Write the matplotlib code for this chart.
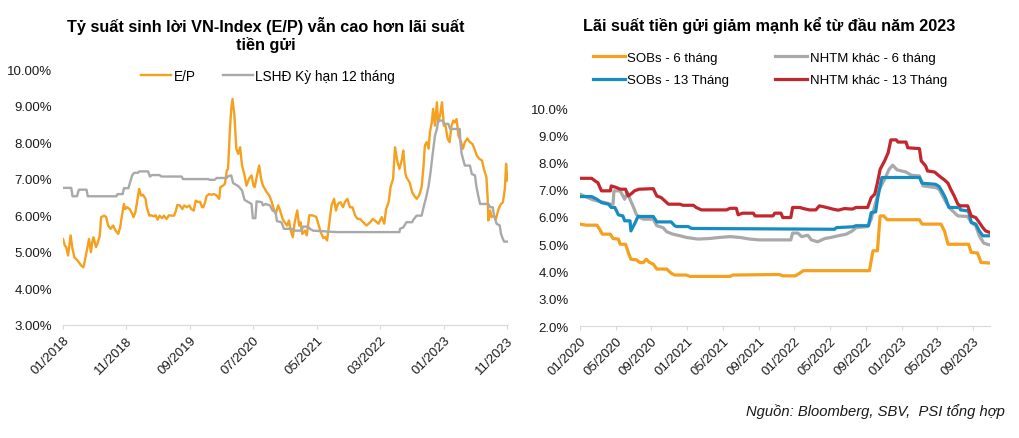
import matplotlib
matplotlib.use("Agg")
from matplotlib import pyplot as plt
from matplotlib.ticker import FuncFormatter

plt.rcParams['font.family'] = ['Liberation Sans', 'DejaVu Sans']

# --- left chart: E/P vs 12-month deposit rate (x = months since 01/2018)
ep_month = [0.0, 0.3, 0.5, 0.8, 1.0, 1.2, 1.5, 1.8, 2.3, 2.9,
            3.2, 3.4, 3.8, 4.1, 4.4, 4.6, 4.8, 5.2, 5.5, 5.8,
            6.0, 6.5, 6.8, 7.1, 7.5, 7.9, 8.3, 8.7, 9.0, 9.2,
            9.6, 9.8, 10.1, 10.5, 10.9, 11.1, 11.4, 11.7, 12.0, 12.3,
            12.6, 13.0, 13.2, 13.6, 13.9, 14.3, 14.6, 14.9, 15.2, 15.6,
            15.9, 16.3, 16.7, 17.1, 17.5, 17.8, 18.0, 18.4, 18.8, 19.1,
            19.5, 19.9, 20.2, 20.6, 20.9, 21.3, 21.6, 21.9, 22.1, 22.4,
            22.6, 23.0, 23.4, 23.8, 24.2, 24.6, 24.8, 25.2, 25.5, 25.8,
            26.0, 26.3, 26.5, 26.7, 27.0, 27.3, 27.6, 27.9, 28.2, 28.6,
            28.9, 29.3, 29.7, 30.0, 30.2, 30.5, 30.9, 31.2, 31.5, 31.8,
            32.1, 32.5, 32.9, 33.2, 33.5, 33.9, 34.2, 34.6, 34.9, 35.3,
            35.6, 35.8, 36.2, 36.5, 36.9, 37.2, 37.4, 37.7, 38.1, 38.4,
            38.8, 39.1, 39.5, 39.9, 40.3, 40.6, 41.0, 41.3, 41.6, 42.0,
            42.3, 42.7, 43.0, 43.3, 43.7, 44.1, 44.4, 44.8, 45.2, 45.6,
            46.0, 46.4, 46.8, 47.3, 47.8, 48.4, 48.8, 49.1, 49.7, 50.2,
            50.6, 50.9, 51.3, 51.6, 52.0, 52.3, 52.7, 53.0, 53.4, 53.6,
            53.9, 54.1, 54.6, 55.0, 55.3, 55.7, 56.1, 56.5, 56.8, 57.0,
            57.3, 57.6, 57.8, 58.1, 58.3, 58.6, 58.9, 59.1, 59.4, 59.7,
            60.0, 60.2, 60.6, 60.9, 61.2, 61.5, 61.7, 62.0, 62.3, 62.7,
            63.0, 63.3, 63.7, 64.1, 64.5, 64.8, 65.2, 65.6, 66.0, 66.3,
            66.7, 66.9, 67.0, 67.3, 67.5, 67.8, 68.2, 68.6, 69.0, 69.3,
            69.6, 69.8, 70.0]
ep_value = [5.35, 5.17, 5.13, 4.90, 5.17, 5.45, 5.08, 4.85, 4.76, 4.62,
            4.58, 4.72, 5.08, 5.35, 4.99, 5.26, 5.40, 5.13, 5.26, 5.45,
            5.95, 5.99, 5.95, 5.72, 5.63, 5.72, 5.58, 5.49, 5.67, 5.90,
            6.31, 6.17, 6.22, 6.17, 6.04, 5.95, 6.08, 6.40, 6.72, 6.54,
            6.56, 6.45, 6.22, 5.99, 6.00, 5.97, 6.00, 5.88, 5.99, 5.92,
            5.99, 5.90, 6.00, 5.99, 5.99, 6.13, 6.28, 6.27, 6.17, 6.27,
            6.22, 6.27, 6.17, 6.13, 6.40, 6.36, 6.37, 6.22, 6.22, 6.36,
            6.52, 6.58, 6.56, 6.58, 6.54, 6.45, 6.77, 6.81, 6.86, 7.22,
            7.27, 8.36, 8.91, 9.18, 8.73, 7.82, 7.68, 7.86, 7.36, 7.09,
            6.81, 7.00, 7.09, 6.81, 6.77, 7.04, 7.36, 7.00, 6.81, 6.72,
            6.63, 6.54, 6.36, 6.17, 6.04, 6.27, 6.13, 5.90, 5.81, 5.72,
            5.86, 5.63, 5.40, 5.81, 6.13, 5.72, 5.81, 5.49, 5.58, 5.45,
            6.00, 6.00, 5.99, 5.95, 5.72, 5.54, 5.38, 5.40, 5.31, 5.86,
            6.27, 6.45, 6.13, 6.31, 6.36, 6.22, 6.36, 6.45, 6.22, 6.22,
            6.00, 5.90, 5.90, 5.81, 5.72, 5.81, 5.90, 5.86, 5.77, 5.95,
            5.77, 6.17, 6.36, 6.77, 7.00, 7.86, 7.45, 7.27, 7.54, 7.77,
            7.18, 7.04, 6.90, 6.63, 6.54, 6.45, 6.54, 6.77, 7.36, 7.91,
            8.00, 7.82, 8.27, 8.54, 8.91, 8.45, 9.09, 8.54, 8.73, 9.09,
            8.45, 8.50, 8.09, 8.00, 8.45, 8.59, 8.54, 8.63, 8.18, 8.00,
            7.82, 8.00, 8.10, 8.00, 7.95, 7.82, 7.63, 7.54, 7.50, 7.27,
            7.04, 6.45, 5.86, 6.13, 5.95, 5.99, 5.90, 6.17, 6.31, 6.36,
            6.72, 7.41, 6.95]

ls_month = [0.0, 1.3, 1.5, 2.2, 2.5, 3.7, 3.9, 8.4, 8.6, 9.4,
            9.6, 10.3, 10.5, 10.9, 11.2, 11.8, 12.0, 13.4, 13.7, 14.0,
            15.2, 15.5, 18.7, 18.9, 22.9, 23.1, 23.9, 24.2, 25.8, 26.0,
            26.5, 26.8, 27.6, 28.2, 28.6, 29.2, 29.7, 29.9, 30.3, 30.5,
            31.3, 31.5, 31.9, 32.6, 33.0, 33.5, 33.7, 34.4, 34.8, 36.0,
            36.5, 37.6, 37.8, 38.6, 38.9, 39.4, 43.1, 53.0, 53.1, 53.6,
            54.1, 55.0, 55.2, 55.7, 56.5, 56.8, 57.2, 57.6, 57.9, 58.2,
            58.6, 58.9, 59.1, 59.8, 60.0, 60.7, 61.0, 62.5, 62.6, 62.8,
            63.3, 64.1, 64.4, 64.9, 65.1, 65.4, 65.7, 67.0, 67.3, 67.7,
            67.9, 68.3, 68.8, 69.0, 69.3, 69.5, 70.2]
ls_value = [6.75, 6.75, 6.52, 6.52, 6.70, 6.70, 6.52, 6.52, 6.58, 6.58,
            6.74, 6.74, 6.86, 7.09, 7.16, 7.16, 7.20, 7.20, 7.06, 7.10,
            7.10, 7.06, 7.06, 6.99, 6.99, 6.97, 6.97, 7.02, 7.02, 7.07,
            7.09, 6.88, 6.80, 6.68, 6.42, 6.36, 6.31, 5.92, 5.92, 6.38,
            6.36, 6.27, 6.31, 6.27, 6.13, 6.09, 5.84, 5.81, 5.63, 5.63,
            5.58, 5.58, 5.69, 5.69, 5.63, 5.58, 5.54, 5.54, 5.63, 5.67,
            5.81, 5.81, 5.88, 5.99, 5.99, 6.22, 6.49, 6.81, 7.18, 7.63,
            8.18, 8.36, 8.59, 8.59, 8.50, 8.50, 8.36, 8.36, 8.00, 7.68,
            7.36, 7.36, 7.13, 7.09, 6.81, 6.54, 6.31, 6.31, 6.22, 6.22,
            5.99, 5.77, 5.72, 5.49, 5.35, 5.28, 5.28]

left_ticks = [0, 10, 20, 30, 40, 50, 60, 70]
left_labels = ['01/2018', '11/2018', '09/2019', '07/2020',
               '05/2021', '03/2022', '01/2023', '11/2023']

# --- right chart: deposit rates (x = months since 01/2020)
sob6_month = [0, 0.7, 1.9, 2.2, 2.5, 3.4, 3.7, 4.3, 4.5, 5.1, 5.4, 5.7, 6.3, 6.7, 7.1,
              7.4, 7.8, 8.2, 8.6, 9.7, 10.2, 10.6, 11.9, 12.3, 16.8, 17.1, 22.3, 22.7,
              24.1, 24.6, 25.0, 32.4, 32.8, 33.3, 33.6, 34.0, 34.4, 38.0, 38.3, 40.4,
              40.8, 41.2, 43.5, 43.8, 44.5, 44.9, 45.9]
sob6_value = [5.74, 5.70, 5.70, 5.55, 5.37, 5.37, 5.21, 5.19, 5.00, 5.00, 4.70, 4.45, 4.43,
              4.33, 4.33, 4.45, 4.33, 4.27, 4.09, 4.09, 3.94, 3.87, 3.87, 3.82, 3.82, 3.87,
              3.89, 3.84, 3.84, 3.94, 4.03, 4.03, 4.76, 4.76, 6.04, 6.04, 5.90, 5.90, 5.74,
              5.74, 5.49, 5.00, 5.00, 4.70, 4.68, 4.33, 4.31]

sob13_month = [0, 1.3, 1.9, 2.4, 3.2, 3.5, 3.9, 4.3, 4.8, 5.0, 5.6, 5.7, 6.1, 6.5, 8.2,
               8.6, 10.2, 10.6, 10.8, 12.1, 12.5, 28.5, 28.7, 30.5, 30.9, 32.3, 32.6,
               33.1, 33.3, 33.8, 38.0, 38.3, 39.8, 40.2, 40.6, 40.9, 41.3, 42.5, 42.6,
               43.5, 43.8, 44.3, 44.7, 45.1, 45.9]
sob13_value = [6.75, 6.75, 6.65, 6.53, 6.47, 6.35, 6.35, 6.08, 6.04, 5.86, 5.86, 5.49, 5.74,
               6.02, 6.02, 5.82, 5.82, 5.68, 5.65, 5.65, 5.58, 5.55, 5.61, 5.64, 5.68, 5.68,
               6.16, 6.19, 6.65, 7.45, 7.45, 7.24, 7.20, 7.12, 6.90, 6.71, 6.35, 6.35, 6.26,
               6.22, 5.80, 5.74, 5.49, 5.31, 5.31]

nh6_month = [0, 0.6, 1.3, 1.9, 2.8, 3.4, 3.7, 3.8, 4.5, 4.8, 5.0, 5.3, 5.6, 6.0, 6.3,
             6.7, 7.1, 8.2, 8.6, 9.3, 9.7, 10.4, 11.2, 11.9, 13.2, 14.5, 15.6, 16.8, 17.9,
             19.0, 20.1, 23.6, 23.8, 24.4, 24.8, 25.5, 25.9, 26.6, 27.4, 28.1, 28.9, 29.8,
             30.5, 30.9, 32.2, 32.6, 33.0, 33.5, 34.1, 34.6, 35.0, 35.5, 36.5, 37.1, 38.0,
             38.4, 39.8, 40.2, 40.6, 41.0, 41.5, 42.3, 43.4, 43.8, 44.3, 44.7, 45.2, 45.9]
nh6_value = [6.84, 6.75, 6.65, 6.59, 6.53, 6.47, 6.47, 6.96, 6.96, 6.77, 6.65, 6.90, 6.65,
             6.35, 6.10, 5.98, 5.92, 5.92, 5.68, 5.61, 5.46, 5.37, 5.31, 5.25, 5.19, 5.21,
             5.25, 5.28, 5.25, 5.19, 5.16, 5.16, 5.41, 5.41, 5.28, 5.33, 5.16, 5.09, 5.21,
             5.25, 5.31, 5.37, 5.49, 5.61, 5.65, 5.92, 6.41, 7.02, 7.38, 7.75, 7.90, 7.73,
             7.65, 7.53, 7.51, 7.14, 7.08, 7.02, 6.77, 6.53, 6.29, 6.04, 6.02, 5.80, 5.68,
             5.31, 5.04, 4.97]

nh13_month = [0, 1.3, 1.7, 2.0, 2.4, 3.4, 3.5, 4.1, 4.5, 5.1, 5.4, 5.8, 6.1, 6.6, 8.2,
              8.6, 9.1, 9.5, 9.9, 11.2, 11.5, 12.7, 13.0, 13.6, 16.4, 16.8, 17.5, 17.7,
              18.2, 19.4, 19.6, 21.6, 21.8, 22.5, 22.7, 23.6, 23.8, 24.6, 25.0, 25.7,
              26.4, 26.8, 27.6, 28.3, 28.9, 29.6, 30.5, 30.9, 32.2, 32.6, 33.0, 33.3,
              33.6, 34.1, 34.5, 34.8, 35.4, 35.6, 36.5, 36.7, 38.0, 38.2, 38.7, 38.9,
              39.7, 40.2, 40.8, 41.2, 41.5, 41.9, 42.3, 42.6, 43.4, 43.8, 44.3, 44.7,
              45.1, 45.4, 45.9]
nh13_value = [7.42, 7.42, 7.32, 7.26, 6.96, 6.96, 7.14, 7.08, 7.02, 7.02, 6.77, 6.87, 6.96,
              7.02, 7.04, 6.77, 6.71, 6.59, 6.47, 6.47, 6.43, 6.43, 6.35, 6.26, 6.26, 6.32,
              6.32, 6.08, 6.14, 6.14, 6.04, 6.04, 6.14, 6.14, 5.98, 5.98, 6.35, 6.35, 6.31,
              6.26, 6.26, 6.41, 6.35, 6.29, 6.25, 6.31, 6.29, 6.35, 6.35, 6.71, 6.84, 7.26,
              7.75, 8.06, 8.36, 8.83, 8.83, 8.75, 8.75, 8.54, 8.51, 8.06, 7.87, 7.69, 7.65,
              7.51, 7.36, 7.24, 7.02, 6.77, 6.47, 6.41, 6.41, 6.04, 5.98, 5.80, 5.61, 5.49,
              5.43]

right_ticks = [0, 4, 8, 12, 16, 20, 24, 28, 32, 36, 40, 44]
right_labels = ['01/2020', '05/2020', '09/2020', '01/2021', '05/2021', '09/2021',
                '01/2022', '05/2022', '09/2022', '01/2023', '05/2023', '09/2023']

orange = '#F5A01E'
gray = '#A9A9A9'
blue = '#168DC2'
red = '#C1272D'
txt = '#1A1A1A'

W, H = 1020, 439
fig = plt.figure(figsize=(W / 100, H / 100), dpi=100)


def style(ax):
    for s in ['left', 'right', 'top']:
        ax.spines[s].set_visible(False)
    ax.spines['bottom'].set_color('#D9D9D9')
    ax.tick_params(axis='y', length=0, labelsize=9.5, labelcolor=txt, pad=8)
    ax.tick_params(axis='x', length=3, color='#D9D9D9', labelsize=9.5, labelcolor=txt)
    for lab in ax.get_xticklabels():
        lab.set_rotation(45)
        lab.set_ha('right')
        lab.set_rotation_mode('anchor')


# left
ax1 = fig.add_axes([63 / W, 1 - 326 / H, (508 - 63) / W, (326 - 70) / H])
l_ep, = ax1.plot(ep_month, ep_value, color=orange, lw=1.7, label='E/P')
l_ls, = ax1.plot(ls_month, ls_value, color=gray, lw=1.7, label='LSHĐ Kỳ hạn 12 tháng')
ax1.set_xlim(0, 70.1)
ax1.set_ylim(3, 10)
ax1.set_yticks(range(3, 11))
ax1.yaxis.set_major_formatter(FuncFormatter(lambda v, p: '%.2f%%' % v))
ax1.set_xticks(left_ticks)
ax1.set_xticklabels(left_labels)
style(ax1)

fig.text(266 / W, 1 - 35 / H,
         'Tỷ suất sinh lời VN-Index (E/P) vẫn cao hơn lãi suất\ntiền gửi',
         ha='center', va='center', fontsize=11.7, fontweight='bold',
         linespacing=1.2, color='black')
fig.legend(handles=[l_ep, l_ls], loc='center', bbox_to_anchor=(268 / W, 1 - 77 / H),
           ncol=2, frameon=False, fontsize=9.8, handlelength=2.2,
           handletextpad=0.2, columnspacing=2.0)

# right
ax2 = fig.add_axes([580 / W, 1 - 327 / H, (990 - 580) / W, (327 - 109) / H])
h1, = ax2.plot(sob6_month, sob6_value, color=orange, lw=2.3, label='SOBs - 6 tháng')
h2, = ax2.plot(nh6_month, nh6_value, color=gray, lw=2.3, label='NHTM khác - 6 tháng')
h3, = ax2.plot(sob13_month, sob13_value, color=blue, lw=2.3, label='SOBs - 13 Tháng')
h4, = ax2.plot(nh13_month, nh13_value, color=red, lw=2.3, label='NHTM khác - 13 Tháng')
ax2.set_xlim(0, 45.9)
ax2.set_ylim(2, 10)
ax2.set_yticks(range(2, 11))
ax2.yaxis.set_major_formatter(FuncFormatter(lambda v, p: '%.1f%%' % v))
ax2.set_xticks(right_ticks)
ax2.set_xticklabels(right_labels)
style(ax2)

fig.text(769 / W, 1 - 25 / H, 'Lãi suất tiền gửi giảm mạnh kể từ đầu năm 2023',
         ha='center', va='center', fontsize=11.7, fontweight='bold', color='black')
fig.legend(handles=[h1, h3, h2, h4], loc='center', bbox_to_anchor=(770 / W, 1 - 70 / H),
           ncol=2, frameon=False, fontsize=9.5, handlelength=2.4,
           handletextpad=0.2, columnspacing=3.5, labelspacing=0.75)

fig.text(1005 / W, 1 - 412 / H, 'Nguồn: Bloomberg, SBV,  PSI tổng hợp',
         ha='right', va='center', fontsize=10.6, style='italic', color=txt)

fig.savefig('out.png', dpi=100)
